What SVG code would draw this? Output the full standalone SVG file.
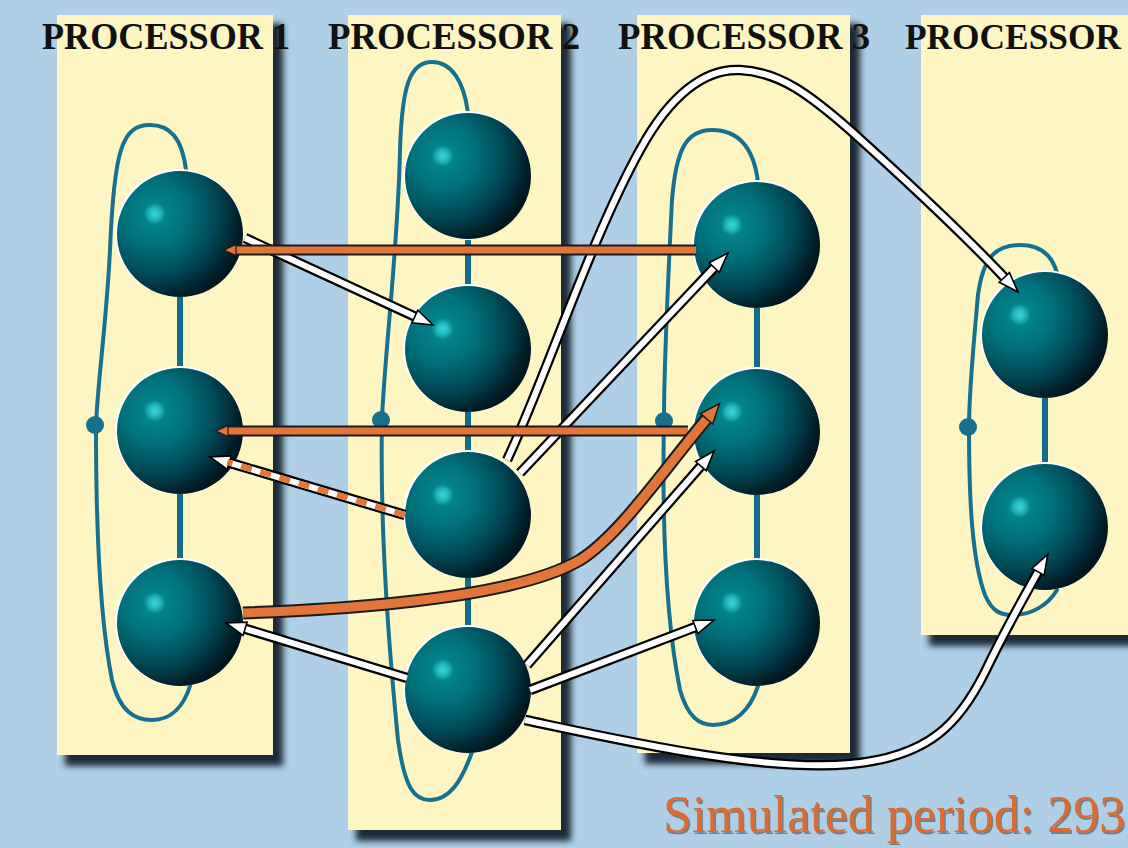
<svg xmlns="http://www.w3.org/2000/svg" width="1128" height="848" viewBox="0 0 1128 848">
<defs>
<style>
.panel{fill:#fdf6c3}
.shadow{fill:#1e2c38}
.lbl{font-family:"Liberation Serif","Times New Roman",serif;font-weight:bold;font-size:37px;fill:#111}
.loop{fill:none;stroke:#18708f;stroke-width:4;stroke-linecap:round}
.link{fill:none;stroke:#166b8a;stroke-width:6}
.dot{fill:#18708f}
.rim{fill:#ffffff}
.ball{fill:url(#sph)}
.wo{fill:none;stroke:#000;stroke-width:10.5}
.wi{fill:none;stroke:#fff;stroke-width:6;marker-end:url(#aw)}
.oo{fill:none;stroke:#1a1a1a;stroke-width:11}
.oi{fill:none;stroke:#e2763a;stroke-width:7;marker-end:url(#ao)}
.ot{fill:none;stroke:#1a1a1a;stroke-width:13}
.oti{fill:none;stroke:#e2763a;stroke-width:9;marker-end:url(#ao2)}
.cap{font-family:"Liberation Serif","Times New Roman",serif;font-size:52px}
</style>
<filter id="blur" x="-10%" y="-10%" width="130%" height="130%"><feGaussianBlur stdDeviation="3"/></filter>
<radialGradient id="sph" cx="0.3" cy="0.34" r="0.88" fx="0.3" fy="0.34">
<stop offset="0" stop-color="#3ad8da"/>
<stop offset="0.05" stop-color="#22b8bd"/>
<stop offset="0.1" stop-color="#04828a"/>
<stop offset="0.3" stop-color="#00707a"/>
<stop offset="0.55" stop-color="#004a56"/>
<stop offset="0.78" stop-color="#001c26"/>
<stop offset="1" stop-color="#000205"/>
</radialGradient>
<marker id="aw" markerUnits="userSpaceOnUse" markerWidth="30" markerHeight="24" viewBox="-2 -12 30 24" refX="2" refY="0" orient="auto">
<path d="M0,-7 L20,0 L0,7 Z" fill="#fff" stroke="#000" stroke-width="1.6" stroke-linejoin="miter"/>
</marker>
<marker id="ao" markerUnits="userSpaceOnUse" markerWidth="24" markerHeight="20" viewBox="-2 -10 24 20" refX="2" refY="0" orient="auto">
<path d="M0,-5.5 L12,0 L0,5.5 Z" fill="#e2763a" stroke="#1a1a1a" stroke-width="1.2"/>
</marker>
<marker id="ao2" markerUnits="userSpaceOnUse" markerWidth="30" markerHeight="24" viewBox="-2 -12 30 24" refX="2" refY="0" orient="auto">
<path d="M0,-8 L20,0 L0,8 Z" fill="#e2763a" stroke="#1a1a1a" stroke-width="1.5"/>
</marker>
</defs>
<rect x="0" y="0" width="1128" height="848" fill="#aecfe6"/>

<g id="panels">
<g id="panel1"><rect class="shadow" x="65" y="24" width="218" height="742" filter="url(#blur)"/><rect class="panel" x="57" y="15" width="216" height="740"/></g>
<g id="panel2"><rect class="shadow" x="356" y="24" width="215" height="817" filter="url(#blur)"/><rect class="panel" x="348" y="15" width="213" height="815"/></g>
<g id="panel3"><rect class="shadow" x="645" y="24" width="215" height="740" filter="url(#blur)"/><rect class="panel" x="637" y="15" width="213" height="738"/></g>
<g id="panel4"><rect class="shadow" x="929" y="24" width="215" height="622" filter="url(#blur)"/><rect class="panel" x="921" y="15" width="215" height="620"/></g>
</g>

<g id="labels">
<text class="lbl" x="42" y="49" textLength="248" lengthAdjust="spacingAndGlyphs">PROCESSOR 1</text>
<text class="lbl" x="328" y="49" textLength="252" lengthAdjust="spacingAndGlyphs">PROCESSOR 2</text>
<text class="lbl" x="618" y="49" textLength="252" lengthAdjust="spacingAndGlyphs">PROCESSOR 3</text>
<text class="lbl" x="905" y="49" style="font-size:35px" textLength="216" lengthAdjust="spacingAndGlyphs">PROCESSOR</text>
</g>

<g id="loops">
<path class="loop" d="M186,170 C182,138 170,125 150,125 C122,125 114,150 110,250 C106,330 96,395 96,430 C96,520 100,620 112,680 C120,712 135,720 152,720 C172,720 184,705 190,686"/>
<circle class="dot" cx="95" cy="425" r="9"/>
<path class="link" d="M180,297 L180,368 M180,494 L180,560"/>

<path class="loop" d="M468,113 C464,82 452,62 432,62 C410,62 402,85 400,150 C398,250 384,360 382,420 C380,520 388,640 398,740 C405,790 415,800 430,800 C450,800 462,780 472,752"/>
<circle class="dot" cx="381" cy="420" r="9"/>
<path class="link" d="M468,240 L468,287 M468,412 L468,452 M468,578 L468,627"/>

<path class="loop" d="M758,182 C754,150 740,130 712,130 C686,130 676,150 672,200 C668,280 664,360 664,420 C662,520 666,620 680,690 C688,718 700,725 713,725 C735,725 750,710 758,686"/>
<circle class="dot" cx="664" cy="421" r="9"/>
<path class="link" d="M757,308 L757,369 M757,494 L757,560"/>

<path class="loop" d="M1057,273 C1052,255 1040,245 1020,245 C995,245 983,258 978,295 C974,340 969,390 969,427 C969,500 972,560 985,595 C992,611 1000,615 1012,615 C1032,615 1048,605 1057,590"/>
<circle class="dot" cx="968" cy="427" r="9"/>
<path class="link" d="M1045,398 L1045,464"/>
</g>

<g id="nodes">
<g id="p1n1"><circle class="rim" cx="179" cy="233" r="64"/><circle class="ball" cx="180" cy="234" r="63"/></g>
<g id="p1n2"><circle class="rim" cx="179" cy="430" r="64"/><circle class="ball" cx="180" cy="431" r="63"/></g>
<g id="p1n3"><circle class="rim" cx="179" cy="622" r="64"/><circle class="ball" cx="180" cy="623" r="63"/></g>
<g id="p2n1"><circle class="rim" cx="467" cy="175" r="64"/><circle class="ball" cx="468" cy="176" r="63"/></g>
<g id="p2n2"><circle class="rim" cx="467" cy="348" r="64"/><circle class="ball" cx="468" cy="349" r="63"/></g>
<g id="p2n3"><circle class="rim" cx="467" cy="514" r="64"/><circle class="ball" cx="468" cy="515" r="63"/></g>
<g id="p2n4"><circle class="rim" cx="467" cy="689" r="64"/><circle class="ball" cx="468" cy="690" r="63"/></g>
<g id="p3n1"><circle class="rim" cx="756" cy="244" r="64"/><circle class="ball" cx="757" cy="245" r="63"/></g>
<g id="p3n2"><circle class="rim" cx="756" cy="431" r="64"/><circle class="ball" cx="757" cy="432" r="63"/></g>
<g id="p3n3"><circle class="rim" cx="756" cy="622" r="64"/><circle class="ball" cx="757" cy="623" r="63"/></g>
<g id="p4n1"><circle class="rim" cx="1044" cy="334" r="64"/><circle class="ball" cx="1045" cy="335" r="63"/></g>
<g id="p4n2"><circle class="rim" cx="1044" cy="526" r="64"/><circle class="ball" cx="1045" cy="527" r="63"/></g>
</g>

<g id="connectors">
<path class="wo" d="M245,238 L416.7,317.4"/><path class="wi" d="M245,238 L416.7,317.4"/>
<path class="wo" d="M520,473 L715.6,266.1"/><path class="wi" d="M520,473 L715.6,266.1"/>
<path class="wo" d="M507,460 C545,380 590,240 640,150 C670,95 705,68 740,70 C780,72 810,95 850,130 C900,175 955,225 1005.7,278.9"/><path class="wi" d="M507,460 C545,380 590,240 640,150 C670,95 705,68 740,70 C780,72 810,95 850,130 C900,175 955,225 1005.7,278.9"/>
<path class="wo" d="M527,665 L702.2,464.6"/><path class="wi" d="M527,665 L702.2,464.6"/>
<path class="wo" d="M530,690 L697.2,626.4"/><path class="wi" d="M530,690 L697.2,626.4"/>
<path class="wo" d="M407,678 L243.2,628.2"/><path class="wi" d="M407,678 L243.2,628.2"/>
<path class="wo" d="M525,720 C620,740 760,772 850,764 C930,757 960,722 985,672 C1005,630 1025,595 1039,570"/><path class="wi" d="M525,720 C620,740 760,772 850,764 C930,757 960,722 985,672 C1005,630 1025,595 1039,570"/>
<path class="wo" d="M405,515 L227.3,462.1"/>
<path class="wi" d="M405,515 L227.3,462.1"/>
<path d="M405,515 L227.3,462.1" fill="none" stroke="#e2763a" stroke-width="6" stroke-dasharray="11 9"/>
<path class="oo" d="M696,250 L234,250"/><path class="oi" d="M696,250 L234,250"/>
<path class="oo" d="M688,431 L226,431"/><path class="oi" d="M688,431 L226,431"/>
<path class="ot" d="M243,613 C380,608 520,595 580,560 C620,535 665,468 707.9,417.3"/><path class="oti" d="M243,613 C380,608 520,595 580,560 C620,535 665,468 707.9,417.3"/>
</g>

<g id="caption">
<text class="cap" x="664.5" y="833.5" fill="#3a2010" opacity="0.45">Simulated period: 293</text>
<text class="cap" x="663" y="832" fill="#d96c32">Simulated period: 293</text>
</g>
</svg>
